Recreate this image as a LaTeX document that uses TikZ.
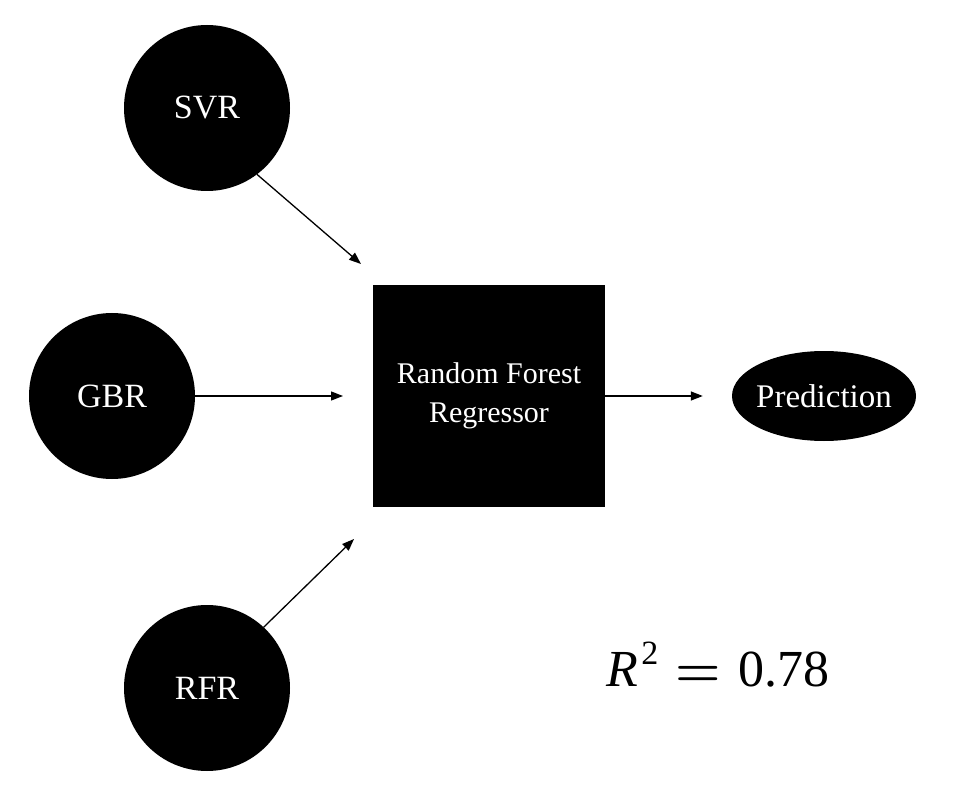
\RequirePackage{fix-cm}
\documentclass[tikz,border=0pt]{standalone}
\usepackage{fontspec}
\setmainfont{Liberation Serif}
\usetikzlibrary{arrows.meta,shapes.geometric}
\tikzset{
  model/.style={circle,fill=black,text=white,minimum size=166pt,inner sep=0pt,
    font=\fontsize{34}{40}\selectfont},
  meta/.style={rectangle,fill=black,text=white,minimum width=232pt,minimum height=221pt,
    inner sep=0pt,align=center,font=\fontsize{30}{39}\selectfont},
  outnode/.style={ellipse,fill=black,text=white,minimum width=184pt,minimum height=90pt,
    inner xsep=-6pt,inner ysep=0pt,font=\fontsize{33}{38}\selectfont},
  arr/.style={-{Triangle[length=12pt,width=9pt]},line width=1.3pt,black}
}
\begin{document}
\begin{tikzpicture}[x=1pt,y=-1pt]
\useasboundingbox (0,0) rectangle (980,794);
\node[model] (svr) at (207,108) {SVR};
\node[model] (gbr) at (112,396) {GBR};
\node[model] (rfr) at (207,688) {RFR};
\node[meta] (rf) at (489,396) {Random Forest\\Regressor};
\node[outnode] (pred) at (824,396) {Prediction};
\coordinate (svrtip) at (361,264);
\coordinate (gbrtip) at (343,396);
\coordinate (rfrtip) at (354,539);
\draw[arr] (svr.-53) -- (svrtip);
\draw[arr] (gbr.east) -- (gbrtip);
\draw[arr] (rfr.47) -- (rfrtip);
\draw[arr,shorten >=29pt] (rf.east) -- (pred.west);
\node[font=\fontsize{52}{60}\selectfont,anchor=base] (r2) at (718,686)
  {\textit{R}\kern3pt\raisebox{0.42em}{\fontsize{34}{40}\selectfont 2}\,\,{\boldmath$=$}\,\,0.78};
\end{tikzpicture}
\end{document}
